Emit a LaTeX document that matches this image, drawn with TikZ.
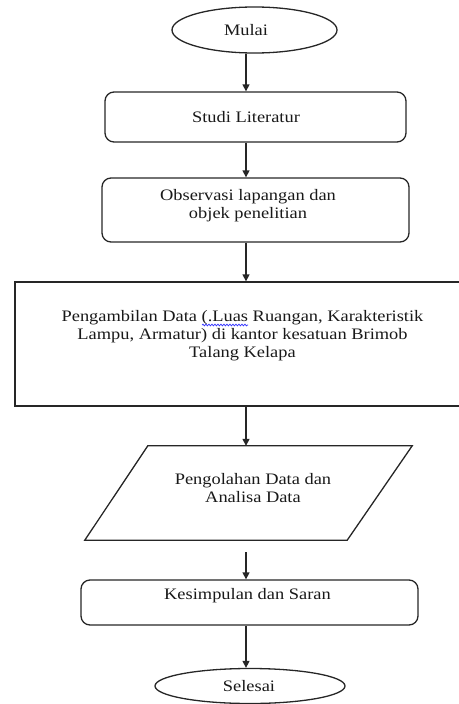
\documentclass[tikz,border=0pt]{standalone}
\usepackage{fontspec}
\setmainfont{Liberation Serif}[FakeStretch=1.15]
\usetikzlibrary{shapes.geometric,arrows.meta,decorations.pathmorphing}

\begin{document}
\begin{tikzpicture}[x=1pt,y=-1pt,
  line/.style={draw=black!85,line width=1.3pt},
  arrow/.style={line,-{Triangle[length=7pt,width=7pt]}},
  terminal/.style={line,ellipse,inner sep=0pt},
  process/.style={line,rectangle,rounded corners=9pt,inner sep=0pt},
  databox/.style={line,rectangle,inner sep=0pt},
  every label/.style={font=\fontsize{16}{18}\selectfont,align=center,text=black!90}]
\useasboundingbox (0,0) rectangle (458,704);
\coordinate (axis) at (246,0);
\node[terminal,minimum width=165pt,minimum height=46pt,label={[xshift=-8.5pt]center:Mulai}] (mulai) at (254.5,30) {};
\node[process,minimum width=301pt,minimum height=50pt,label={[xshift=-9.5pt]center:Studi Literatur}] (studi) at (255.5,117) {};
\node[process,minimum width=307pt,minimum height=64pt,label={[xshift=-7.5pt,yshift=4.5pt]center:{Observasi lapangan dan\\objek penelitian}}] (observasi) at (255.5,210) {};
\node[databox,minimum width=455pt,minimum height=124pt,label={[yshift=8pt]center:{Pengambilan Data (.Luas Ruangan, Karakteristik\\Lampu, Armatur) di kantor kesatuan Brimob\\Talang Kelapa}}] (data) at (242.5,344) {};
\node[minimum width=327pt,minimum height=94pt,inner sep=0pt,label={[xshift=4.5pt,yshift=5pt]center:{Pengolahan Data dan\\Analisa Data}}] (olah) at (248.5,493) {};
\node[process,minimum width=337pt,minimum height=45pt,label={[xshift=-2pt,yshift=7pt]center:Kesimpulan dan Saran}] (kesimpulan) at (249.5,602.5) {};
\node[terminal,minimum width=190pt,minimum height=35pt,label={[xshift=-1pt]center:Selesai}] (selesai) at (250,686) {};
% jajaran genjang
\draw[line] ([xshift=63pt]olah.north west) -- (olah.north east) -- ([xshift=-65pt]olah.south east) -- (olah.south west) -- cycle;
% garis bawah ejaan
\draw[blue!80,line width=0.7pt,decorate,decoration={snake,amplitude=0.9pt,segment length=3pt}] (202,325) -- (248,325);
% panah
\draw[arrow] (mulai.south -| axis) -- (studi.north -| axis);
\draw[arrow] (studi.south -| axis) -- (observasi.north -| axis);
\draw[arrow] (observasi.south -| axis) -- (data.north -| axis);
\draw[arrow] (data.south -| axis) -- (olah.north -| axis);
\draw[arrow,shorten <=12pt] (olah.south -| axis) -- (kesimpulan.north -| axis);
\draw[arrow] (kesimpulan.south -| axis) -- (selesai.north -| axis);
\end{tikzpicture}
\end{document}
